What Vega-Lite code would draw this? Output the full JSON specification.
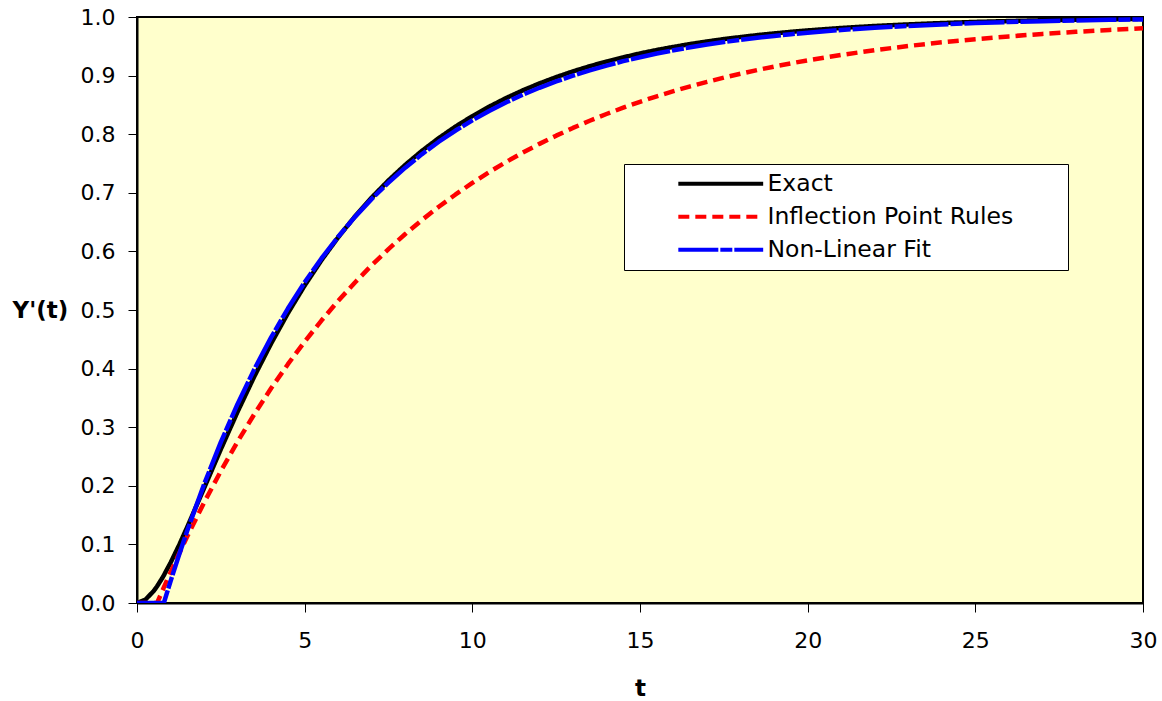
{
  "$schema": "https://vega.github.io/schema/vega-lite/v6.json",
  "width": 1006,
  "height": 586,
  "autosize": {"type": "none"},
  "padding": {"left": 137, "top": 17, "right": 19, "bottom": 98},
  "background": "white",
  "config": {
    "view": {"fill": "#FFFFCC", "stroke": "black", "strokeWidth": 2},
    "font": "DejaVu Sans",
    "axis": {
      "grid": false,
      "domainColor": "black",
      "domainWidth": 2,
      "tickColor": "black",
      "tickWidth": 1,
      "tickSize": 9,
      "labelFont": "DejaVu Sans",
      "labelFontSize": 22,
      "labelColor": "black",
      "titleFont": "DejaVu Sans",
      "titleFontSize": 23,
      "titleFontWeight": "bold",
      "titleColor": "black"
    },
    "legend": {
      "orient": "none",
      "legendX": 487,
      "legendY": 147,
      "fillColor": "white",
      "strokeColor": "black",
      "strokeWidth": 1,
      "padding": 8,
      "labelFont": "DejaVu Sans",
      "labelFontSize": 23.5,
      "labelColor": "black",
      "labelLimit": 400,
      "symbolType": "M-10,0H10",
      "symbolSize": 72,
      "symbolStrokeWidth": 4,
      "symbolOffset": 77,
      "rowPadding": 8,
      "labelOffset": 35
    }
  },
  "data": {
    "values": [
      {"t": 0, "Exact": 0, "Inflection Point Rules": 0, "Non-Linear Fit": 0},
      {"t": 0.25, "Exact": 0.0057, "Inflection Point Rules": 0, "Non-Linear Fit": 0},
      {"t": 0.5, "Exact": 0.0206, "Inflection Point Rules": 0, "Non-Linear Fit": 0},
      {"t": 0.6, "Exact": 0.0286, "Inflection Point Rules": 0, "Non-Linear Fit": 0},
      {"t": 0.75, "Exact": 0.0422, "Inflection Point Rules": 0.0199, "Non-Linear Fit": 0},
      {"t": 0.8, "Exact": 0.0472, "Inflection Point Rules": 0.0265, "Non-Linear Fit": 0},
      {"t": 1, "Exact": 0.0686, "Inflection Point Rules": 0.0523, "Non-Linear Fit": 0.037},
      {"t": 1.25, "Exact": 0.0981, "Inflection Point Rules": 0.0836, "Non-Linear Fit": 0.0814},
      {"t": 1.5, "Exact": 0.1298, "Inflection Point Rules": 0.1138, "Non-Linear Fit": 0.1237},
      {"t": 2, "Exact": 0.1959, "Inflection Point Rules": 0.1713, "Non-Linear Fit": 0.2026},
      {"t": 2.5, "Exact": 0.2624, "Inflection Point Rules": 0.2251, "Non-Linear Fit": 0.2744},
      {"t": 3, "Exact": 0.3264, "Inflection Point Rules": 0.2754, "Non-Linear Fit": 0.3397},
      {"t": 3.5, "Exact": 0.3868, "Inflection Point Rules": 0.3224, "Non-Linear Fit": 0.3991},
      {"t": 4, "Exact": 0.4429, "Inflection Point Rules": 0.3664, "Non-Linear Fit": 0.4533},
      {"t": 4.5, "Exact": 0.4946, "Inflection Point Rules": 0.4075, "Non-Linear Fit": 0.5025},
      {"t": 5, "Exact": 0.5418, "Inflection Point Rules": 0.446, "Non-Linear Fit": 0.5473},
      {"t": 5.5, "Exact": 0.5849, "Inflection Point Rules": 0.482, "Non-Linear Fit": 0.588},
      {"t": 6, "Exact": 0.6241, "Inflection Point Rules": 0.5156, "Non-Linear Fit": 0.6251},
      {"t": 6.5, "Exact": 0.6597, "Inflection Point Rules": 0.547, "Non-Linear Fit": 0.6589},
      {"t": 7, "Exact": 0.692, "Inflection Point Rules": 0.5764, "Non-Linear Fit": 0.6896},
      {"t": 7.5, "Exact": 0.7212, "Inflection Point Rules": 0.6039, "Non-Linear Fit": 0.7175},
      {"t": 8, "Exact": 0.7477, "Inflection Point Rules": 0.6297, "Non-Linear Fit": 0.7429},
      {"t": 8.5, "Exact": 0.7717, "Inflection Point Rules": 0.6537, "Non-Linear Fit": 0.7661},
      {"t": 9, "Exact": 0.7934, "Inflection Point Rules": 0.6762, "Non-Linear Fit": 0.7872},
      {"t": 9.5, "Exact": 0.8131, "Inflection Point Rules": 0.6972, "Non-Linear Fit": 0.8063},
      {"t": 10, "Exact": 0.8308, "Inflection Point Rules": 0.7168, "Non-Linear Fit": 0.8237},
      {"t": 10.5, "Exact": 0.8469, "Inflection Point Rules": 0.7352, "Non-Linear Fit": 0.8396},
      {"t": 11, "Exact": 0.8615, "Inflection Point Rules": 0.7524, "Non-Linear Fit": 0.8541},
      {"t": 11.5, "Exact": 0.8747, "Inflection Point Rules": 0.7685, "Non-Linear Fit": 0.8672},
      {"t": 12, "Exact": 0.8866, "Inflection Point Rules": 0.7835, "Non-Linear Fit": 0.8792},
      {"t": 12.5, "Exact": 0.8974, "Inflection Point Rules": 0.7975, "Non-Linear Fit": 0.89},
      {"t": 13, "Exact": 0.9072, "Inflection Point Rules": 0.8107, "Non-Linear Fit": 0.8999},
      {"t": 13.5, "Exact": 0.916, "Inflection Point Rules": 0.823, "Non-Linear Fit": 0.9089},
      {"t": 14, "Exact": 0.924, "Inflection Point Rules": 0.8345, "Non-Linear Fit": 0.9171},
      {"t": 14.5, "Exact": 0.9312, "Inflection Point Rules": 0.8452, "Non-Linear Fit": 0.9246},
      {"t": 15, "Exact": 0.9378, "Inflection Point Rules": 0.8553, "Non-Linear Fit": 0.9314},
      {"t": 15.5, "Exact": 0.9437, "Inflection Point Rules": 0.8647, "Non-Linear Fit": 0.9376},
      {"t": 16, "Exact": 0.949, "Inflection Point Rules": 0.8735, "Non-Linear Fit": 0.9432},
      {"t": 16.5, "Exact": 0.9539, "Inflection Point Rules": 0.8817, "Non-Linear Fit": 0.9483},
      {"t": 17, "Exact": 0.9583, "Inflection Point Rules": 0.8893, "Non-Linear Fit": 0.953},
      {"t": 17.5, "Exact": 0.9623, "Inflection Point Rules": 0.8965, "Non-Linear Fit": 0.9572},
      {"t": 18, "Exact": 0.9658, "Inflection Point Rules": 0.9032, "Non-Linear Fit": 0.9611},
      {"t": 18.5, "Exact": 0.9691, "Inflection Point Rules": 0.9095, "Non-Linear Fit": 0.9646},
      {"t": 19, "Exact": 0.972, "Inflection Point Rules": 0.9154, "Non-Linear Fit": 0.9677},
      {"t": 19.5, "Exact": 0.9747, "Inflection Point Rules": 0.9209, "Non-Linear Fit": 0.9706},
      {"t": 20, "Exact": 0.9771, "Inflection Point Rules": 0.926, "Non-Linear Fit": 0.9733},
      {"t": 21, "Exact": 0.9813, "Inflection Point Rules": 0.9353, "Non-Linear Fit": 0.9779},
      {"t": 22, "Exact": 0.9847, "Inflection Point Rules": 0.9434, "Non-Linear Fit": 0.9817},
      {"t": 23, "Exact": 0.9874, "Inflection Point Rules": 0.9505, "Non-Linear Fit": 0.9848},
      {"t": 24, "Exact": 0.9897, "Inflection Point Rules": 0.9568, "Non-Linear Fit": 0.9874},
      {"t": 25, "Exact": 0.9916, "Inflection Point Rules": 0.9622, "Non-Linear Fit": 0.9896},
      {"t": 26, "Exact": 0.9931, "Inflection Point Rules": 0.9669, "Non-Linear Fit": 0.9914},
      {"t": 27, "Exact": 0.9944, "Inflection Point Rules": 0.9711, "Non-Linear Fit": 0.9929},
      {"t": 28, "Exact": 0.9954, "Inflection Point Rules": 0.9747, "Non-Linear Fit": 0.9941},
      {"t": 29, "Exact": 0.9962, "Inflection Point Rules": 0.9779, "Non-Linear Fit": 0.9951},
      {"t": 30, "Exact": 0.9969, "Inflection Point Rules": 0.9807, "Non-Linear Fit": 0.9959}
    ]
  },
  "transform": [
    {"fold": ["Exact", "Inflection Point Rules", "Non-Linear Fit"], "as": ["series", "value"]}
  ],
  "mark": {"type": "line", "strokeWidth": 4.5, "strokeCap": "butt", "strokeJoin": "round", "clip": true},
  "encoding": {
    "x": {
      "field": "t",
      "type": "quantitative",
      "scale": {"domain": [0, 30], "nice": false},
      "axis": {
        "title": "t",
        "values": [0, 5, 10, 15, 20, 25, 30],
        "labelPadding": 18,
        "labelFlush": false,
        "titleY": 85,
        "titleBaseline": "middle"
      }
    },
    "y": {
      "field": "value",
      "type": "quantitative",
      "scale": {"domain": [0, 1], "nice": false},
      "axis": {
        "title": "Y'(t)",
        "values": [0, 0.1, 0.2, 0.3, 0.4, 0.5, 0.6, 0.7, 0.8, 0.9, 1.0],
        "format": ".1f",
        "labelPadding": 13,
        "titleAngle": 0,
        "titleAlign": "left",
        "titleBaseline": "middle",
        "titleX": -125,
        "titleY": 293
      }
    },
    "color": {
      "field": "series",
      "type": "nominal",
      "scale": {
        "domain": ["Exact", "Inflection Point Rules", "Non-Linear Fit"],
        "range": ["#000000", "#FF0000", "#0000FF"]
      },
      "legend": {"title": "\u00a0", "titleOrient": "right", "titlePadding": 47, "titleFontSize": 23}
    },
    "strokeDash": {
      "field": "series",
      "type": "nominal",
      "scale": {
        "domain": ["Exact", "Inflection Point Rules", "Non-Linear Fit"],
        "range": [[1, 0], [11, 6], [40, 2, 12, 2]]
      },
      "legend": {"title": "\u00a0", "titleOrient": "right", "titlePadding": 47, "titleFontSize": 23}
    }
  }
}
